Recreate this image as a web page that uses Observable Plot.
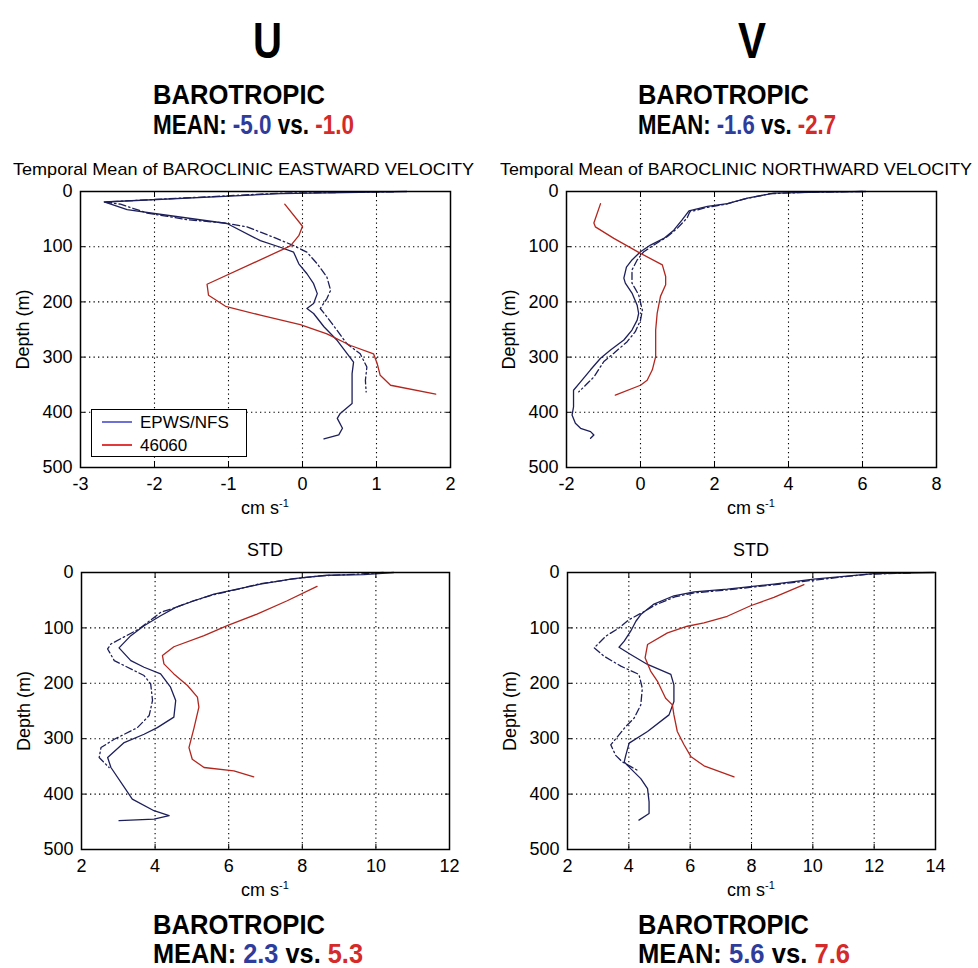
<!DOCTYPE html>
<html><head><meta charset="utf-8">
<script src="https://cdn.jsdelivr.net/npm/d3@7"></script>
<script src="https://cdn.jsdelivr.net/npm/@observablehq/plot@0.6"></script>
<style>
body{margin:0;background:#fff;}
#root{position:relative;width:978px;height:968px;overflow:hidden;font-family:"Liberation Sans",Arial,sans-serif;color:#000;}
.t{position:absolute;white-space:nowrap;transform-origin:0 0;line-height:0.8;}
.panel{position:absolute;}
.legend{position:absolute;background:#fff;border:1.5px solid #000;box-sizing:border-box;}
.legend .row{position:absolute;left:10px;height:20px;display:flex;align-items:center;font-size:17px;line-height:1;}
.legend .sw{display:inline-block;width:30px;height:1.5px;margin-right:8px;}
</style></head><body><div id="root"></div>
<script>
// ---------- data: [value (cm s-1), depth (m)] ----------
const depthTicks = [0, 100, 200, 300, 400, 500];
const xTicksUMean = [-3, -2, -1, 0, 1, 2];
const xTicksVMean = [-2, 0, 2, 4, 6, 8];
const xTicksUStd = [2, 4, 6, 8, 10, 12];
const xTicksVStd = [2, 4, 6, 8, 10, 12, 14];

const uMeanModel = [[1.41,0],[-0.30,4],[-2.68,19],[-2.37,33],[-1.83,43],[-1.02,58],[-0.57,89],[-0.30,101],[-0.12,110],[-0.05,131],[0.06,149],[0.15,167],[0.20,185],[0.15,203],[0.06,212],[0.15,221],[0.29,245],[0.47,270],[0.69,309],[0.67,330],[0.67,384],[0.51,402],[0.47,411],[0.54,429],[0.49,441],[0.29,448]];
const uMeanModelAlt = [[1.23,0.6],[-0.30,3],[-2.68,19],[-2.46,23],[-2.10,39],[-1.56,51],[-1.06,57],[-0.75,64],[-0.39,83],[-0.12,98],[0.06,110],[0.20,131],[0.33,155],[0.38,179],[0.33,194],[0.24,212],[0.33,227],[0.47,252],[0.60,276],[0.78,294],[0.87,318],[0.85,342],[0.86,363]];
const uMeanObs = [[-0.24,23],[0.0,63],[-0.05,80],[-0.16,98],[-0.25,104],[-1.29,168],[-1.27,188],[-1.04,208],[-0.57,224],[-0.03,241],[0.33,258],[0.65,279],[0.96,294],[1.01,312],[1.05,333],[1.19,351],[1.80,367]];

const vMeanModel = [[6.09,0],[4.87,1],[3.61,3],[2.89,12],[2.35,22],[1.81,27],[1.31,35],[1.13,51],[0.90,70],[0.63,85],[0.27,97],[0,109],[-0.23,124],[-0.38,137],[-0.45,157],[-0.41,166],[-0.23,184],[-0.09,206],[-0.05,221],[-0.09,233],[-0.23,251],[-0.45,269],[-0.81,287],[-1.08,302],[-1.35,323],[-1.62,345],[-1.81,360],[-1.81,390],[-1.85,405],[-1.76,420],[-1.62,429],[-1.35,435],[-1.26,441],[-1.35,447]];
const vMeanModelAlt = [[6.0,0],[4.5,1.5],[3.5,4],[2.85,13],[2.3,23],[1.78,29],[1.33,37],[1.26,48],[0.99,67],[0.72,82],[0.36,97],[0.09,109],[-0.09,124],[-0.23,142],[-0.23,166],[-0.05,187],[0.05,215],[0,233],[-0.14,254],[-0.36,272],[-0.72,293],[-0.99,308],[-1.26,336],[-1.53,354],[-1.67,363]];
const vMeanObs = [[-1.08,22],[-1.26,57],[-1.22,64],[-0.72,85],[0,112],[0.59,133],[0.68,154],[0.68,169],[0.54,190],[0.45,221],[0.41,251],[0.41,299],[0.32,323],[0.18,342],[0,351],[-0.68,369]];

const uStdModel = [[10.48,0],[9.67,4],[8.67,5],[7.77,11],[6.86,21],[6.23,30],[5.60,39],[5.06,51],[4.56,63],[4.15,78],[3.70,96],[3.34,114],[3.02,136],[3.34,159],[3.70,171],[4.15,183],[4.42,207],[4.56,231],[4.51,261],[4.06,280],[3.70,292],[3.16,307],[2.71,334],[2.80,352],[3.38,409],[3.97,430],[4.38,439],[3.97,445],[3.02,448]];
const uStdModelAlt = [[10.2,0],[9.5,3],[8.5,6],[7.7,12],[6.8,21],[6.2,31],[5.6,40],[5.0,52],[4.56,63],[4.15,72],[3.56,102],[2.80,129],[2.71,138],[2.89,159],[3.25,171],[3.70,186],[3.88,201],[3.93,231],[3.84,258],[3.52,280],[2.89,301],[2.53,316],[2.48,334],[2.75,352]];
const uStdObs = [[8.40,25],[7.59,51],[6.77,75],[5.96,96],[5.33,114],[4.51,134],[4.20,150],[4.24,165],[4.51,183],[4.88,204],[5.15,225],[5.19,243],[5.06,280],[4.92,316],[5.01,337],[5.33,352],[6.14,358],[6.68,369]];

const vStdModel = [[13.94,0],[11.99,2],[10.03,12],[8.73,21],[7.21,30],[6.13,35],[5.47,42],[4.82,57],[4.39,76],[4.23,88],[4.06,106],[3.85,124],[3.68,135],[4.06,148],[4.61,166],[5.37,184],[5.47,203],[5.47,233],[5.31,257],[4.61,287],[4.01,308],[3.90,330],[3.85,342],[4.06,354],[4.39,372],[4.61,390],[4.66,414],[4.66,435],[4.33,447]];
const vStdModelAlt = [[13.18,1],[11.8,3],[10.0,14],[8.6,23],[7.1,32],[6.1,37],[5.5,44],[4.85,59],[4.45,72],[4.01,85],[3.68,100],[3.25,115],[2.87,136],[3.19,151],[3.74,169],[4.33,184],[4.44,209],[4.39,239],[4.17,263],[3.90,278],[3.68,293],[3.41,311],[3.57,330],[3.79,342],[4.28,357]];
const vStdObs = [[9.71,22],[8.73,45],[7.97,60],[7.21,79],[6.45,91],[5.91,97],[5.26,109],[4.61,130],[4.53,154],[4.71,178],[4.93,196],[5.20,227],[5.42,239],[5.47,257],[5.58,287],[5.80,311],[6.02,332],[6.45,349],[7.43,369]];

const seriesNames = ["EPWS/NFS", "46060"];
const barotropicU = [-5.0, -1.0];
const barotropicV = [-1.6, -2.7];
const barotropicUStd = [2.3, 5.3];
const barotropicVStd = [5.6, 7.6];

// ---------- layout ----------
const NAVY = "#1d1f5a", RED = "#b3261e";
const root = document.getElementById("root");

function place(html, left, capTop, fs, weight, targetW, align) {
  const d = document.createElement("div");
  d.className = "t";
  d.style.fontSize = fs + "px";
  d.style.fontWeight = weight;
  d.innerHTML = html;
  root.appendChild(d);
  const w = d.getBoundingClientRect().width;
  const s = targetW ? targetW / w : 1;
  const realW = w * s;
  const x = align === "center" ? left - realW / 2 : left;
  d.style.left = x + "px";
  d.style.top = (capTop - 0.03 * fs) + "px";
  d.style.transform = `scaleX(${s})`;
  return d;
}

const panels = [
  {frame:[80,450,191,467], xDomain:[-3,2], xTicks:xTicksUMean, model:uMeanModel, alt:uMeanModelAlt, obs:uMeanObs},
  {frame:[566,936,191,467], xDomain:[-2,8], xTicks:xTicksVMean, model:vMeanModel, alt:vMeanModelAlt, obs:vMeanObs},
  {frame:[81,449,572,849], xDomain:[2,12], xTicks:xTicksUStd, model:uStdModel, alt:uStdModelAlt, obs:uStdObs},
  {frame:[567,935,572,849], xDomain:[2,14], xTicks:xTicksVStd, model:vStdModel, alt:vStdModelAlt, obs:vStdObs}
];

const gridStyle = {stroke:"#000", strokeOpacity:1, strokeDasharray:"1.3,3.2", strokeWidth:1.1};
const inTick = {tickSize: -5, tickFormat: () => "", label: null, stroke: "#000", strokeWidth: 1};
for (const p of panels) {
  const [fl, fr, ft, fb] = p.frame;
  const mL = 80, mT = 11, mR = 30, mB = 60;
  const chart = Plot.plot({
    width: fr - fl + mL + mR,
    height: fb - ft + mT + mB,
    marginLeft: mL, marginRight: mR, marginTop: mT, marginBottom: mB,
    style: {fontSize: "18px", fontFamily: "'Liberation Sans', Arial, sans-serif", color: "#000", overflow: "visible"},
    x: {domain: p.xDomain},
    y: {domain: [0, 500], reverse: true},
    marks: [
      Plot.gridX(p.xTicks.slice(1, -1), gridStyle),
      Plot.gridY(depthTicks.slice(1, -1), gridStyle),
      Plot.line(p.alt, {x: d => d[0], y: d => d[1], stroke: NAVY, strokeWidth: 1.3, strokeDasharray: "7,3,1.5,3"}),
      Plot.line(p.model, {x: d => d[0], y: d => d[1], stroke: NAVY, strokeWidth: 1.3}),
      Plot.line(p.obs, {x: d => d[0], y: d => d[1], stroke: RED, strokeWidth: 1.3}),
      Plot.axisX(p.xTicks, {anchor: "bottom", tickSize: 0, tickPadding: 10, tickFormat: d => String(d), label: null}),
      Plot.axisY(depthTicks, {anchor: "left", tickSize: 0, tickPadding: 8, tickFormat: d => String(d), label: "Depth (m)", labelAnchor: "center", labelOffset: 64, labelArrow: "none"}),
      Plot.axisX(p.xTicks, {anchor: "bottom", ...inTick}),
      Plot.axisX(p.xTicks, {anchor: "top", ...inTick}),
      Plot.axisY(depthTicks, {anchor: "left", ...inTick}),
      Plot.axisY(depthTicks, {anchor: "right", ...inTick}),
      Plot.frame({stroke: "#000", strokeWidth: 1.5})
    ]
  });
  chart.classList.add("panel");
  chart.style.left = (fl - mL) + "px";
  chart.style.top = (ft - mT) + "px";
  root.appendChild(chart);
  place("cm s<sup style='font-size:11px;vertical-align:7px'>-1</sup>", (fl + fr) / 2, fb + 33, 18, "normal", 0, "center");
}

// legend
const leg = document.createElement("div");
leg.className = "legend";
Object.assign(leg.style, {left: "91px", top: "409px", width: "156px", height: "48px"});
leg.innerHTML = `<div class="row" style="top:2px"><span class="sw" style="background:#6f6fd8"></span>${seriesNames[0]}</div>
<div class="row" style="top:25px"><span class="sw" style="background:#e23a3a"></span>${seriesNames[1]}</div>`;
root.appendChild(leg);

// headings
const BLUE_T = "#2e3d9c", RED_T = "#d42a2a";
const fmt = v => v.toFixed(1);
place("U", 267, 22, 50, "bold", 29, "center");
place("V", 752, 22, 50, "bold", 28, "center");
place("BAROTROPIC", 153, 85, 28, "bold", 172);
place("BAROTROPIC", 638, 85, 28, "bold", 171);
place(`MEAN: <span style="color:${BLUE_T}">${fmt(barotropicU[0])}</span> vs. <span style="color:${RED_T}">${fmt(barotropicU[1])}</span>`, 153, 115, 28, "bold", 201);
place(`MEAN: <span style="color:${BLUE_T}">${fmt(barotropicV[0])}</span> vs. <span style="color:${RED_T}">${fmt(barotropicV[1])}</span>`, 638, 115, 28, "bold", 198);
place("Temporal Mean of BAROCLINIC EASTWARD VELOCITY", 13, 164, 17, "normal", 461);
place("Temporal Mean of BAROCLINIC NORTHWARD VELOCITY", 500, 164, 17, "normal", 472);
place("STD", 265, 544, 18, "normal", 0, "center");
place("STD", 751, 544, 18, "normal", 0, "center");
place("BAROTROPIC", 153, 915, 28, "bold", 172);
place("BAROTROPIC", 638, 915, 28, "bold", 171);
place(`MEAN: <span style="color:${BLUE_T}">${fmt(barotropicUStd[0])}</span> vs. <span style="color:${RED_T}">${fmt(barotropicUStd[1])}</span>`, 153, 944, 28, "bold", 210);
place(`MEAN: <span style="color:${BLUE_T}">${fmt(barotropicVStd[0])}</span> vs. <span style="color:${RED_T}">${fmt(barotropicVStd[1])}</span>`, 638, 944, 28, "bold", 212);
</script>
</body></html>
